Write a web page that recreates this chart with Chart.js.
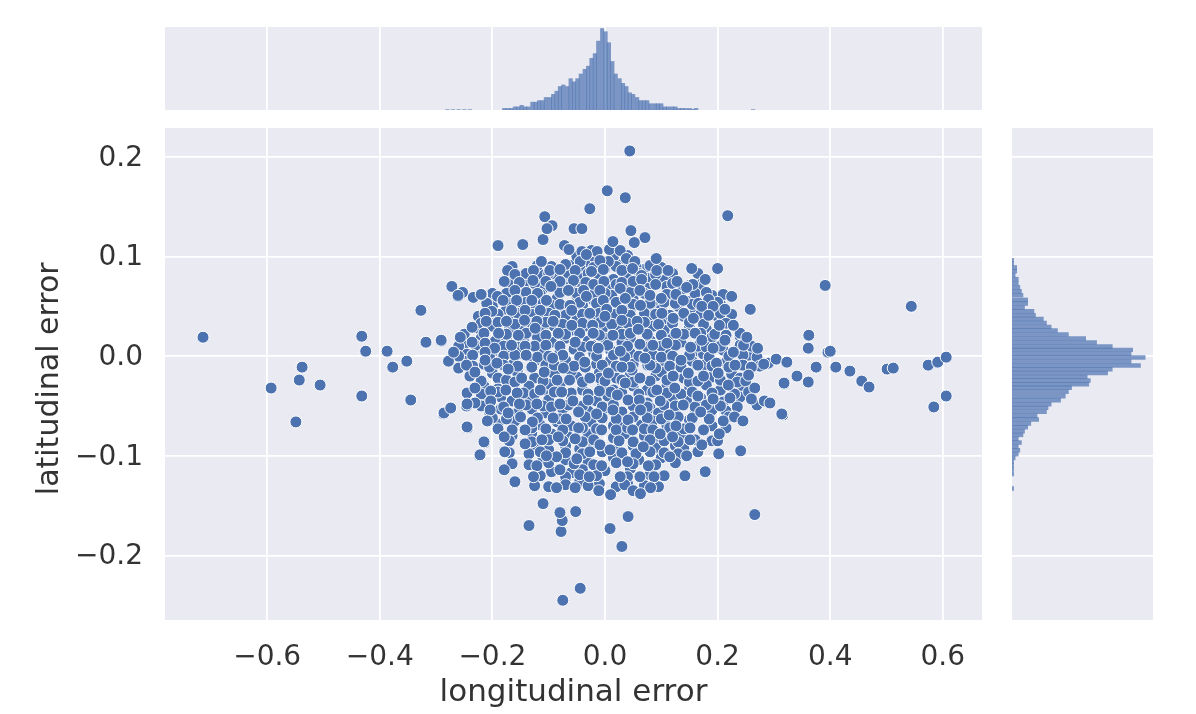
<!DOCTYPE html>
<html>
<head>
<meta charset="utf-8">
<script src="https://cdn.jsdelivr.net/npm/chart.js@4/dist/chart.umd.js"></script>
<style>
  html, body { margin: 0; padding: 0; background: #fff; }
  canvas { position: absolute; filter: blur(0.5px); }
</style>
</head>
<body>
<canvas id="main" width="1196" height="714" style="left:0;top:0"></canvas>
<canvas id="top" width="817" height="83" style="left:165px;top:27px"></canvas>
<canvas id="right" width="141" height="492" style="left:1012px;top:128px"></canvas>
<script>
const xTicks = [-0.6, -0.4, -0.2, 0, 0.2, 0.4, 0.6];
const yTicks = [-0.2, -0.1, 0, 0.1, 0.2];

// drawn first, these sit under the visible dots
const underPairs = [
  [-.06,.091],[-.03,.094],[.0,.088],[.03,.092],[.07,.087],
  [-.15,.08],[-.115,.082],[-.09,.078],[-.065,.083],[-.04,.079],[-.01,.081],[.015,.077],[.04,.082],[.075,.078],[.105,.076],
  [-.165,.07],[-.14,.072],[-.11,.068],[-.075,.073],[-.045,.069],[-.015,.071],[.01,.067],[.045,.072],[.075,.068],[.11,.07],[.135,.066],
  [-.19,.058],[-.17,.061],[-.145,.057],[-.115,.062],[-.085,.058],[-.05,.061],[-.02,.056],[.012,.061],[.05,.057],[.085,.052],[.115,.061],[.15,.055],[.19,.061],
  [-.2,.05],[-.175,.047],[-.15,.052],[-.125,.048],[-.095,.051],[-.07,.047],[-.04,.051],[-.005,.048],[.02,.052],[.045,.047],[.075,.05],[.1,.047],[.13,.05],[.16,.046],[.205,.052],
  [-.225,.04],[-.19,.038],[-.165,.041],[-.13,.037],[-.105,.04],[-.08,.036],[-.05,.04],[-.02,.037],[.015,.04],[.05,.036],[.08,.039],[.105,.036],[.14,.04],[.175,.036],[.2,.04],
  [-.225,.028],[-.2,.03],[-.17,.027],[-.145,.03],[-.11,.027],[-.09,.03],[-.06,.026],[-.035,.03],[-.005,.027],[.025,.03],[.05,.026],[.085,.03],[.105,.026],[.15,.03],[.18,.027],[.22,.03],
  [-.25,.012],[-.22,.018],[-.195,.015],[-.175,.019],[-.145,.016],[-.12,.019],[-.095,.014],[-.07,.018],[-.03,.015],[.0,.018],[.03,.014],[.045,.018],[.08,.016],[.12,.018],[.135,.014],[.19,.019],[.24,.02],
  [-.245,.002],[-.22,.007],[-.2,.004],[-.17,.006],[-.155,.002],[-.115,.006],[-.08,.004],[-.055,.007],[-.02,.003],[.01,.006],[.045,.003],[.095,.006],[.115,.002],[.16,.005],[.175,.002],[.21,.006],[.255,.001],
  [-.25,-.005],[-.215,-.008],[-.185,-.004],[-.165,-.009],[-.125,-.005],[-.105,-.009],[-.07,-.004],[-.015,-.008],[.01,-.004],[.05,-.008],[.09,-.005],[.105,-.009],[.155,-.005],[.175,-.009],[.215,-.006],
  [-.24,-.02],[-.2,-.017],[-.19,-.022],[-.155,-.017],[-.125,-.022],[-.09,-.018],[-.05,-.021],[-.01,-.017],[.02,-.022],[.045,-.018],[.09,-.02],[.1,-.016],[.14,-.022],[.19,-.021],[.225,-.018],[.24,-.022],
  [-.215,-.03],[-.19,-.033],[-.135,-.03],[-.105,-.034],[-.08,-.029],[-.04,-.034],[-.005,-.03],[.015,-.034],[.05,-.03],[.075,-.034],[.11,-.03],[.15,-.033],[.18,-.029],[.205,-.034],[.245,-.03],
  [-.21,-.044],[-.185,-.041],[-.165,-.045],[-.135,-.041],[-.1,-.044],[-.06,-.04],[-.015,-.045],[.005,-.04],[.06,-.043],[.075,-.047],[.12,-.041],[.145,-.045],[.17,-.042],[.21,-.046],[.24,-.041],
  [-.205,-.056],[-.185,-.053],[-.155,-.057],[-.13,-.053],[-.105,-.057],[-.075,-.053],[-.03,-.055],[.0,-.052],[.03,-.056],[.08,-.052],[.095,-.057],[.125,-.053],[.16,-.057],[.19,-.054],[.215,-.055],
  [-.19,-.068],[-.16,-.065],[-.115,-.069],[-.085,-.066],[-.06,-.07],[-.025,-.066],[.015,-.07],[.03,-.066],[.065,-.069],[.085,-.065],[.11,-.07],[.15,-.064],[.19,-.07],
  [-.165,-.08],[-.13,-.077],[-.095,-.078],[-.065,-.081],[-.03,-.078],[.015,-.082],[.035,-.078],[.07,-.08],[.095,-.085],[.135,-.08],[.19,-.085],
  [-.125,-.091],[-.1,-.094],[-.07,-.09],[-.045,-.093],[-.02,-.09],[.02,-.094],[.05,-.09],[.09,-.092],[.125,-.09],[.14,-.093],
  [-.11,-.103],[-.07,-.104],[-.03,-.107],[.015,-.102],[.06,-.104],[.1,-.102],
  [-.095,-.116],[-.06,-.117],[-.04,-.114],[.0,-.115],[.045,-.113],[.085,-.112],
  [-.07,-.125],[-.045,-.126],[-.01,-.128],[.04,-.128],[.075,-.126],
  [.048,-.014],[.076,-.009],[-.009,-.022],[-.023,.011],[.09,-.012],[-.06,-.015],[-.1,-.028]
];

// second fill layer, the gaps left by the first one
const midPairs = [
  [-.05,.1],[-.02,.1],[.015,.1],[.04,.101],
  [-.165,.09],[-.12,.091],[-.095,.09],[-.07,.092],[-.045,.09],[-.02,.089],[.02,.09],[.055,.09],[.08,.091],[.1,.089],
  [-.14,.083],[-.1,.083],[-.03,.083],[.06,.083],[.09,.082],[.12,.083],[.165,.083],
  [-.17,.072],[-.125,.073],[-.09,.071],[-.06,.072],[-.03,.073],[.02,.072],[.06,.071],[.09,.072],[.12,.073],[.15,.071],[.17,.072],
  [-.2,.063],[-.175,.063],[-.14,.064],[-.12,.063],[-.08,.064],[-.05,.063],[-.02,.062],[.0,.063],[.045,.064],[.07,.063],[.11,.062],[.16,.063],[.18,.064],[.21,.062],
  [-.21,.053],[-.165,.053],[-.14,.054],[-.11,.053],[-.08,.052],[-.045,.054],[-.015,.053],[.02,.054],[.05,.052],[.08,.053],[.105,.054],[.125,.053],[.155,.052],[.185,.053],[.2,.054],
  [-.19,.042],[-.155,.043],[-.13,.042],[-.1,.043],[-.07,.041],[-.04,.042],[-.01,.043],[.018,.042],[.045,.041],[.07,.043],[.09,.042],[.115,.041],[.14,.043],[.17,.042],[.205,.043],[.225,.042],
  [-.22,.033],[-.19,.034],[-.16,.032],[-.13,.033],[-.105,.034],[-.075,.032],[-.04,.033],[-.008,.034],[.012,.032],[.04,.033],[.07,.034],[.095,.032],[.12,.033],[.15,.034],[.175,.032],[.215,.033],
  [-.25,.022],[-.215,.023],[-.175,.022],[-.14,.023],[-.105,.021],[-.07,.022],[-.045,.023],[-.01,.021],[.03,.022],[.045,.023],[.075,.022],[.1,.021],[.14,.022],[.17,.023],[.195,.022],[.215,.021],[.24,.023],
  [-.26,.01],[-.23,.011],[-.18,.01],[-.155,.009],[-.125,.01],[-.105,.011],[-.08,.01],[-.04,.009],[-.025,.01],[.005,.011],[.04,.01],[.075,.009],[.1,.01],[.125,.011],[.165,.01],[.18,.009],[.205,.01],[.24,.011],[.26,.01],
  [-.26,.0],[-.235,.001],[-.205,-.001],[-.18,.0],[-.16,.001],[-.12,-.001],[-.1,.0],[-.075,.001],[-.045,-.001],[-.015,.0],[.015,.001],[.035,-.001],[.06,.0],[.085,.001],[.1,-.001],[.12,.0],[.15,.001],[.185,-.001],[.22,.0],[.245,.001],[.27,-.001],
  [-.235,-.01],[-.205,-.011],[-.18,-.009],[-.155,-.01],[-.13,-.011],[-.09,-.009],[-.055,-.01],[-.035,-.011],[-.005,-.009],[.02,-.01],[.045,-.011],[.08,-.009],[.115,-.01],[.135,-.011],[.165,-.009],[.19,-.01],[.22,-.011],[.245,-.009],[.275,-.01],
  [-.22,-.025],[-.175,-.024],[-.16,-.026],[-.11,-.025],[-.085,-.024],[-.04,-.026],[.0,-.025],[.03,-.024],[.05,-.026],[.08,-.025],[.11,-.024],[.15,-.026],[.165,-.025],[.205,-.024],[.235,-.026],[.25,-.025],
  [-.245,-.037],[-.22,-.038],[-.19,-.036],[-.145,-.037],[-.125,-.038],[-.09,-.036],[-.06,-.037],[-.03,-.038],[.01,-.036],[.03,-.037],[.06,-.038],[.085,-.036],[.11,-.037],[.135,-.038],[.155,-.036],[.19,-.037],[.23,-.038],[.255,-.036],
  [-.22,-.05],[-.18,-.051],[-.14,-.049],[-.11,-.05],[-.095,-.051],[-.065,-.049],[-.04,-.05],[-.005,-.051],[.015,-.049],[.05,-.05],[.075,-.051],[.105,-.049],[.125,-.05],[.16,-.051],[.18,-.049],[.205,-.05],[.235,-.051],[.27,-.049],
  [-.2,-.062],[-.175,-.063],[-.15,-.061],[-.12,-.062],[-.08,-.063],[-.035,-.061],[-.005,-.062],[.02,-.063],[.05,-.061],[.075,-.062],[.1,-.063],[.13,-.061],[.155,-.062],[.185,-.063],[.22,-.061],
  [-.19,-.073],[-.165,-.074],[-.13,-.072],[-.105,-.073],[-.075,-.074],[-.04,-.072],[-.015,-.073],[.02,-.074],[.04,-.072],[.07,-.073],[.085,-.074],[.115,-.072],[.14,-.073],[.175,-.074],[.215,-.072],
  [-.17,-.085],[-.13,-.086],[-.1,-.084],[-.075,-.085],[-.04,-.086],[-.02,-.084],[.025,-.085],[.05,-.086],[.08,-.084],[.105,-.085],[.13,-.086],[.16,-.084],[.2,-.085],
  [-.17,-.097],[-.135,-.098],[-.115,-.096],[-.07,-.097],[-.04,-.098],[-.005,-.096],[.03,-.097],[.055,-.098],[.08,-.096],[.105,-.097],[.13,-.098],[.165,-.096],
  [-.165,-.108],[-.135,-.109],[-.1,-.107],[-.055,-.108],[-.02,-.109],[.02,-.107],[.05,-.108],[.09,-.109],[.125,-.107],
  [-.115,-.12],[-.07,-.121],[-.045,-.119],[-.015,-.12],[.04,-.121],[.08,-.119],[.105,-.12],
  [-.125,-.13],[-.1,-.131],[-.07,-.129],[-.03,-.13],[.02,-.131],[.035,-.129],[.07,-.13],[.095,-.131]
];

// the dots that show whole on top of the cloud
const cloudPairs = [
  [-.041,.105],[-.024,.106],[-.014,.105],[.008,.107],[.027,.106],[-.113,.095],[-.044,.095],[.038,.098],[.053,.095],[.091,.098],[.006,.095],[-.009,.096],[-.033,.102],
  [-.173,.086],[-.16,.082],[-.127,.086],[-.098,.086],[-.08,.087],[-.053,.086],[-.024,.085],[-.003,.087],[.03,.086],[.049,.088],[.065,.081],[.092,.086],[.112,.086],[.154,.088],[.2,.088],
  [-.179,.075],[-.152,.074],[-.128,.076],[-.105,.075],[-.08,.075],[-.056,.076],[-.034,.074],[-.02,.072],[-.002,.075],[.03,.074],[.05,.075],[.065,.077],[.128,.075],[.156,.072],[.178,.077],
  [-.261,.06],[-.253,.064],[-.234,.059],[-.219,.062],[-.191,.06],[-.16,.066],[-.096,.07],[-.065,.066],[-.038,.066],[-.009,.066],[.027,.068],[.062,.066],[.08,.061],[.1,.058],[.126,.062],[.145,.069],[.225,.06],
  [-.181,.056],[-.157,.056],[-.13,.056],[-.104,.056],[-.062,.051],[-.033,.06],[-.003,.056],[.036,.058],[.063,.051],[.139,.056],[.166,.053],[.184,.057],
  [-.201,.045],[-.213,.043],[-.166,.046],[-.142,.046],[-.115,.046],[-.089,.041],[-.059,.046],[-.027,.043],[.003,.047],[.03,.046],[.101,.043],[.121,.038],[.157,.038],[.172,.05],[.192,.05],[.213,.047],[.258,.047],
  [-.211,.035],[-.175,.035],[-.143,.036],[-.121,.035],[-.092,.035],[-.059,.031],[-.022,.031],[0,.04],[.03,.036],[.057,.035],[.184,.041],[.203,.031],[.228,.031],
  [-.236,.029],[-.236,.014],[-.257,.019],[-.291,.015],[-.189,.023],[-.154,.021],[-.124,.028],[-.083,.023],[-.021,.023],[.014,.021],[.059,.027],[.126,.023],[.16,.023],
  [-.213,.013],[-.196,.008],[-.166,.011],[-.142,.01],[-.053,.014],[-.012,.008],[.027,.005],[.062,.012],[.085,.011],[.11,.013],[.152,.009],[.172,.016],[.192,.008],[.213,.016],[.228,.004],[.246,.011],[.252,.019],[.271,.008],
  [-.213,.004],[-.278,-.005],[-.269,.004],[-.26,-.012],[-.246,-.009],[-.231,-.016],[-.213,-.004],[-.192,-.007],[-.14,.001],[-.093,-.002],[-.036,-.006],[.03,-.011],[.071,-.002],[.135,-.004],[.198,-.007],[.231,-.009],[.26,-.011],[.29,-.007],[.305,-.003],
  [-.172,-.013],[-.148,-.022],[-.108,-.016],[-.074,-.012],[-.027,-.022],[.006,-.017],[.062,-.022],[.121,-.02],[.148,-.017],[.175,-.02],[.201,-.017],[.255,-.019],
  [-.231,-.032],[-.203,-.035],[-.176,-.034],[-.156,-.037],[-.115,-.034],[-.077,-.036],[-.063,-.024],[-.01,-.035],[.036,-.027],[.092,-.034],[.124,-.032],[.165,-.04],[.219,-.029],[.266,-.032],[.318,-.028],
  [-.231,-.047],[-.203,-.045],[-.152,-.048],[-.121,-.048],[-.08,-.048],[-.057,-.045],[-.03,-.044],[.022,-.039],[.041,-.044],[.061,-.044],[.098,-.045],[.192,-.043],[.222,-.042],[.26,-.043],[.283,-.045],[.293,-.047],[-.275,-.053],[-.287,-.058],[-.246,-.05],
  [-.204,-.054],[-.172,-.057],[-.092,-.062],[-.069,-.063],[-.047,-.056],[-.015,-.058],[.014,-.054],[.041,-.064],[.063,-.054],[.114,-.059],[.139,-.049],[.17,-.056],[.21,-.065],[.23,-.061],[.245,-.065],[.316,-.059],
  [-.209,-.065],[-.244,-.072],[-.129,-.066],[-.142,-.074],[-.047,-.072],[-.006,-.074],[.049,-.074],[.098,-.078],[.126,-.07],[.151,-.072],[.203,-.078],
  [-.179,-.081],[-.214,-.087],[-.112,-.084],[-.142,-.088],[-.083,-.081],[-.053,-.083],[-.009,-.089],[.009,-.094],[.068,-.091],[.12,-.081],[.151,-.084],[.172,-.089],[.202,-.098],[.241,-.095],[.115,-.101],
  [-.179,-.096],[-.223,-.1],[-.086,-.101],[-.104,-.1],[-.05,-.103],[-.027,-.096],[.04,-.106],[.077,-.11],[.145,-.1],[-.121,-.11],[-.08,-.114],[-.179,-.114],[-.16,-.127],[-.127,-.121],[-.028,-.121],[-.006,-.11],[.027,-.121],[.062,-.121],[.087,-.121],[.142,-.12],[.178,-.116],[-.086,-.132],[-.053,-.132],[-.011,-.135],[.01,-.139],[.05,-.135],[.063,-.138],[.081,-.132]
];

const outlierPairs = [
  [-.714,.019],[-.593,-.032],[-.538,-.011],[-.543,-.024],[-.506,-.029],[-.549,-.066],[-.432,.02],[-.425,.005],[-.432,-.04],[-.387,.005],[-.377,-.011],[-.352,-.005],[-.345,-.044],[-.327,.046],[-.318,.014],[-.291,.016],[-.286,-.057],[-.274,-.052],[-.272,.07],[-.261,.061],[-.245,-.071],[-.245,-.048],[-.222,-.099],[-.215,-.086],[-.22,.062],
  [-.19,.111],[-.146,.112],[-.11,.117],[-.107,.14],[-.094,.131],[-.103,.128],[-.055,.128],[-.041,.128],[-.027,.148],[.004,.166],[.036,.159],[.044,.206],[.218,.141],[.046,.126],[.071,.119],[.014,.115],[.052,.114],[-.072,.111],[-.064,.107],
  [.391,.071],[.544,.05],[.362,.021],[.361,.008],[.396,.004],[.4,.005],[.375,-.011],[.41,-.011],[.435,-.015],[.456,-.025],[.469,-.031],[.341,-.02],[.318,-.027],[.361,-.026],[.314,-.058],[.501,-.013],[.512,-.012],[.574,-.009],[.591,-.006],[.606,-.001],[.606,-.04],[.584,-.051],[.282,-.008],[.304,-.003],[.323,-.006],
  [.266,-.159],[.041,-.161],[.009,-.173],[.03,-.191],[-.044,-.233],[-.075,-.245],[-.078,-.176],[-.076,-.165],[-.135,-.17],[-.11,-.148],[-.052,-.156],[-.08,-.157],[-.16,-.126],[-.178,-.096]
];

const lonBins = [-.28,-.27,-.26,-.25,-.24,
  -.179,-.173,-.167,-.160,-.154,-.148,-.142,-.136,-.129,-.123,-.117,-.111,-.105,-.098,-.092,-.086,-.080,-.074,-.067,-.061,-.055,-.049,-.043,-.036,-.030,-.024,-.018,-.012,-.005,.001,.007,.013,.019,.026,.032,.038,.044,.050,.057,.063,.069,.075,.081,.088,.094,.100,.106,.112,.119,.125,.131,.137,.143,.150,.156,.162,.263];
const lonCounts = [.25,.25,.25,.25,.25,
  1,1,1,2,2,3,2,2,5,5,6,6,8,8,10,12,15,16,15,20,18,20,23,26,28,33,36,44,52,50,43,31,23,20,17,15,11,10,8,6,6,6,4,4,4,4,2,2,2,2,1,1,1,1,.5,1,.25];

const latBins = [.0964,.0927,.0890,.0853,.0813,.0773,.0733,.0692,.0652,.0612,.0565,.0528,.0488,.0451,.0411,.0374,.0334,.0294,.0257,.0217,.0177,.0137,.0097,.0063,.0023,-.0014,-.0054,-.0094,-.0131,-.0168,-.0208,-.0245,-.0281,-.0318,-.0358,-.0402,-.0442,-.0482,-.0519,-.0559,-.0599,-.0636,-.0676,-.0713,-.0753,-.0790,-.0830,-.0867,-.0907,-.0944,-.0984,-.1021,-.1061,-.1098,-.1138,-.1182,-.1329];
const latCounts = [1,1,3,3,2,4,4,5,6,7,10,10,8,14,15,20,22,25,29,36,47,54,64,77,76,85,76,82,64,61,48,50,49,38,36,34,31,25,23,22,16,17,12,10,8,7,4,6,4,5,4,2,1,1,1,1,1];

const fmt = (v) => (Math.round(v * 10) / 10).toFixed(1).replace("-", "\u2212");

const panelBg = {
  id: "panelBg",
  beforeDraw(chart) {
    const a = chart.chartArea, c = chart.ctx;
    c.save();
    c.fillStyle = "#eaeaf2";
    c.fillRect(a.left, a.top, a.right - a.left, a.bottom - a.top);
    c.restore();
  },
};
Chart.register(panelBg);
Chart.defaults.font.family = "'DejaVu Sans'";
Chart.defaults.color = "#333333";
Chart.defaults.animation = false;
Chart.defaults.events = [];
Chart.defaults.plugins.legend.display = false;
Chart.defaults.plugins.tooltip.enabled = false;

const gridStyle = { color: "#ffffff", lineWidth: 1.8, drawTicks: false };

new Chart("main", {
  type: "scatter",
  data: {
    datasets: [{
      data: underPairs.concat(midPairs, cloudPairs, outlierPairs).map((p) => ({ x: p[0], y: p[1] })),
      backgroundColor: "#4c72b0",
      borderColor: "#ffffff",
      borderWidth: 1,
      pointRadius: 6,
    }],
  },
  options: {
    responsive: false,
    layout: { padding: { top: 128, right: 214, left: 0, bottom: 0 } },
    scales: {
      x: {
        type: "linear",
        min: -0.7815,
        max: 0.6696,
        afterBuildTicks(s) { s.ticks = xTicks.map((v) => ({ value: v })); },
        afterFit(s) { s.height = 94; },
        grid: gridStyle,
        border: { display: false },
        ticks: { callback: fmt, font: { size: 28 }, padding: 21, maxRotation: 0, autoSkip: false },
        title: { display: true, text: "longitudinal error", font: { size: 31 }, padding: { top: 0, bottom: 2 } },
      },
      y: {
        type: "linear",
        min: -0.2648,
        max: 0.229,
        afterBuildTicks(s) { s.ticks = yTicks.map((v) => ({ value: v })); },
        afterFit(s) { s.width = 165; },
        grid: gridStyle,
        border: { display: false },
        ticks: { callback: fmt, font: { size: 28 }, padding: 22, labelOffset: 1.5, autoSkip: false },
        title: { display: true, text: "latitudinal error ", font: { size: 30 }, padding: { top: 32, bottom: 0 } },
      },
    },
  },
});

new Chart("top", {
  type: "bar",
  data: {
    datasets: [{
      data: lonBins.map((b, i) => ({ x: b, y: lonCounts[i] })),
      backgroundColor: "rgba(76,114,176,0.7)",
      barThickness: 3.5,
    }],
  },
  options: {
    responsive: false,
    scales: {
      x: {
        type: "linear",
        offset: false,
        min: -0.7815,
        max: 0.6696,
        afterBuildTicks(s) { s.ticks = xTicks.map((v) => ({ value: v })); },
        afterFit(s) { s.height = 0; },
        grid: { ...gridStyle, offset: false },
        border: { display: false },
        ticks: { display: false },
      },
      y: { display: false, min: 0, max: 53 },
    },
  },
});

new Chart("right", {
  type: "bar",
  data: {
    datasets: [{
      data: latBins.map((b, i) => ({ y: b, x: latCounts[i] })),
      backgroundColor: "rgba(76,114,176,0.7)",
      barThickness: 3.8,
    }],
  },
  options: {
    responsive: false,
    indexAxis: "y",
    scales: {
      x: { type: "linear", display: false, min: 0, max: 90 },
      y: {
        type: "linear",
        offset: false,
        min: -0.2648,
        max: 0.229,
        afterBuildTicks(s) { s.ticks = yTicks.map((v) => ({ value: v })); },
        afterFit(s) { s.width = 0; },
        grid: { ...gridStyle, offset: false },
        border: { display: false },
        ticks: { display: false },
      },
    },
  },
});
</script>
</body>
</html>
